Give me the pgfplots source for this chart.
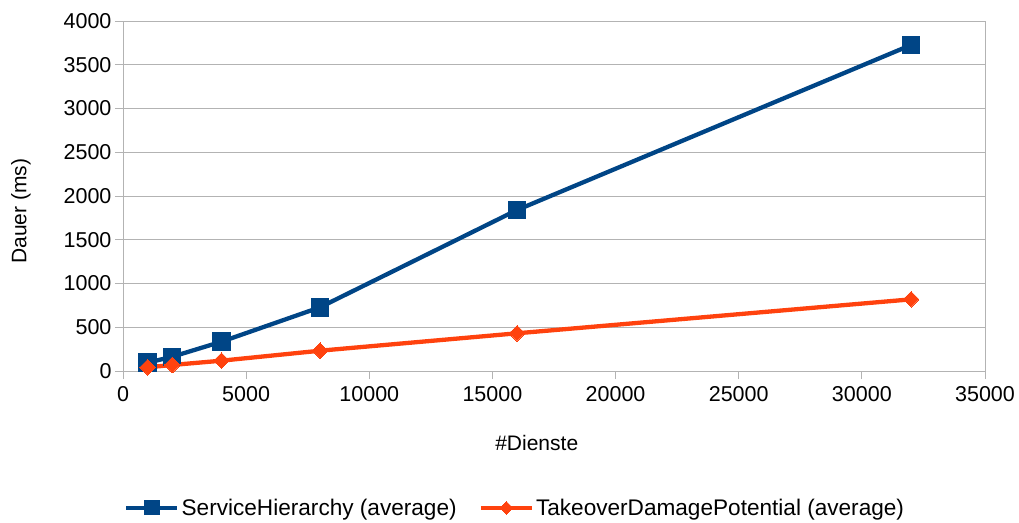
\documentclass[border=0pt]{standalone}
\usepackage{fontspec}
\setmainfont{Liberation Sans}
\usepackage{pgfplots}
\pgfplotsset{compat=1.18}
\definecolor{sblue}{HTML}{004586}
\definecolor{sorange}{HTML}{FF420E}
\definecolor{gridgray}{HTML}{B3B3B3}
\begin{document}
\begin{tikzpicture}
\path[use as bounding box] (-123pt,-151pt) rectangle (896pt,371pt);
\begin{axis}[
  at={(0,0)}, anchor=south west,
  scale only axis, width=862pt, height=350pt,
  xmin=0, xmax=35000, ymin=0, ymax=4000,
  xtick distance=5000, ytick distance=500,
  scaled x ticks=false, scaled y ticks=false,
  ymajorgrids, grid style={gridgray, line width=0.9pt},
  axis line style={gridgray, line width=0.9pt},
  tick style={gridgray, line width=0.9pt},
  tick align=outside, major tick length=8pt,
  xtick pos=bottom, ytick pos=left,
  /pgf/number format/.cd, 1000 sep={}, assume math mode=true, /pgfplots/.cd,
  ticklabel style={font=\fontsize{21.5}{25}\selectfont, text=black},
  yticklabel style={xshift=0pt},
  xticklabel style={yshift=-4pt},
  xlabel={\#Dienste},
  ylabel={Dauer (ms)},
  every axis x label/.style={at={(rel axis cs:0.48,-0.206)}, anchor=center, font=\fontsize{21}{25}\selectfont},
  every axis y label/.style={at={(rel axis cs:-0.1183,0.457)}, anchor=center, rotate=90, font=\fontsize{21}{25}\selectfont},
  legend columns=2,
  legend style={at={(rel axis cs:0.455,-0.391)}, anchor=center, draw=none, fill=none,
    font=\fontsize{22.6}{26}\selectfont,
    /tikz/every even column/.append style={column sep=20pt}},
  legend image code/.code={
    \draw[#1, mark repeat=2, mark phase=2, every mark/.append style={scale=0.82}] plot coordinates {(0pt,0pt) (25.5pt,0pt) (51pt,0pt)};
  },
]
\addplot[color=sblue, line width=4.3pt, mark=square*, mark size=8.7pt, mark options={solid, line width=0pt}]
  coordinates {(1000,95) (2000,163) (4000,335) (8000,728) (16000,1840) (32000,3726)};
\addlegendentry{ServiceHierarchy (average)}
\addplot[color=sorange, line width=4.3pt, mark=square*, mark size=5.5pt, mark options={solid, rotate=45, line width=0pt}]
  coordinates {(1000,42) (2000,69) (4000,118) (8000,232) (16000,431) (32000,819)};
\addlegendentry{TakeoverDamagePotential (average)}
\end{axis}
\end{tikzpicture}
\end{document}
